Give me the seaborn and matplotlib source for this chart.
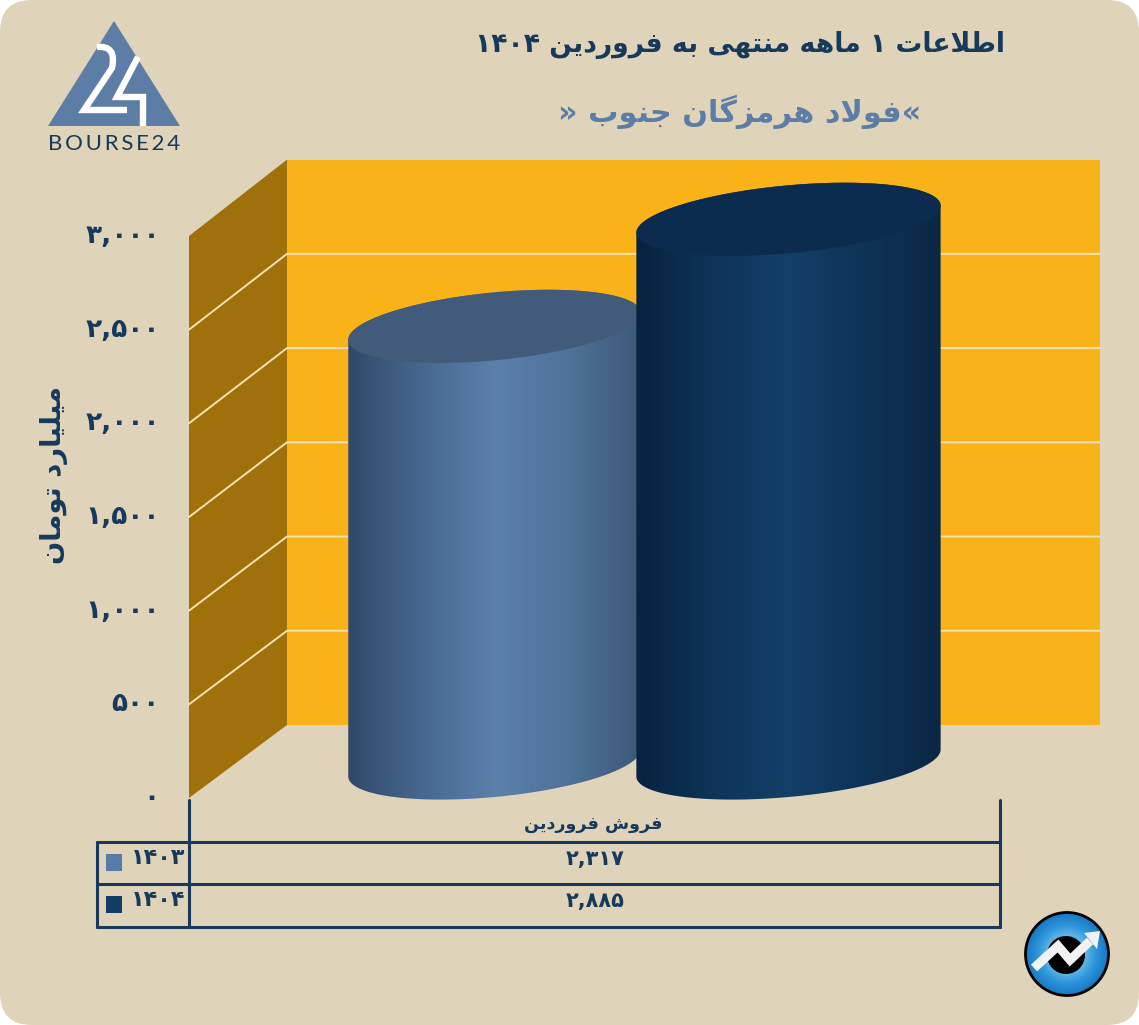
"""Recreate the Bourse24 sales chart: 3D style cylinders on a seaborn bar plot."""

import re

import matplotlib

matplotlib.use("Agg")

import matplotlib.pyplot as plt
import numpy as np
import pandas as pd
import seaborn as sns
from matplotlib.colors import LinearSegmentedColormap
from matplotlib.patches import Circle, FancyBboxPatch, PathPatch, Polygon, Rectangle
from matplotlib.path import Path
from matplotlib.transforms import ScaledTranslation

TITLE = "اطلاعات ۱ ماهه منتهی به فروردین ۱۴۰۴"
SUBTITLE = "«فولاد هرمزگان جنوب »"
Y_LABEL = "میلیارد تومان"
METRIC = "فروش فروردین"
YEARS = ["۱۴۰۳", "۱۴۰۴"]
SALES = [2317, 2885]
Y_TICKS = [0, 500, 1000, 1500, 2000, 2500, 3000]

NAVY = "#17395c"
STEEL = "#5b7da6"
BG = "#dfd4b9"
YEAR_COLORS = ["#557ba6", "#123c66"]
TOP_COLORS = ["#425b7b", "#0b2c4e"]
BODY_COLORS = [
    ["#30496a", "#46688f", "#5b80ab", "#4f7399", "#3b587a"],
    ["#06233f", "#0e3459", "#133f68", "#0e3358", "#0a2743"],
]
BAR_FLARE = [0.995, 1.035]
DEPTH_SCALE = 1.006  # the box is drawn a little taller behind the front plane

# Arabic presentation forms: first codepoint of iso/final/init/medial, and if it joins forward
FORMS = {
    "ا": (0xFE8D, False), "ب": (0xFE8F, True), "ت": (0xFE95, True), "ج": (0xFE9D, True),
    "د": (0xFEA9, False), "ر": (0xFEAD, False), "ز": (0xFEAF, False), "ش": (0xFEB5, True),
    "ط": (0xFEC1, True), "ع": (0xFEC9, True), "ف": (0xFED1, True), "گ": (0xFB92, True),
    "ل": (0xFEDD, True), "م": (0xFEE1, True), "ن": (0xFEE5, True), "ه": (0xFEE9, True),
    "و": (0xFEED, False), "ی": (0xFBFC, True),
}


def shape(text):
    """Join the letters and lay the text out right to left, as matplotlib will not."""
    text = text.replace("لا", "\ufefb")
    out = []
    for i, ch in enumerate(text):
        prev_ch = text[i - 1] if i else ""
        next_ch = text[i + 1] if i + 1 < len(text) else ""
        joins_prev = prev_ch in FORMS and FORMS[prev_ch][1]
        if ch == "\ufefb":
            out.append("\ufefc" if joins_prev else ch)
        elif ch in FORMS:
            base, forward = FORMS[ch]
            joins_next = forward and (next_ch in FORMS or next_ch == "\ufefb")
            if joins_prev and joins_next:
                out.append(chr(base + 3))
            elif joins_next:
                out.append(chr(base + 2))
            elif joins_prev:
                out.append(chr(base + 1))
            else:
                out.append(chr(base))
        else:
            out.append(ch)
    visual = "".join(out)[::-1]
    return re.sub(r"[۰-۹,]+", lambda m: m.group(0)[::-1], visual)


def fa_number(value):
    return f"{value:,}".translate(str.maketrans("0123456789", "۰۱۲۳۴۵۶۷۸۹"))


sns.set_theme(style="white")
plt.rcParams["font.family"] = ["DejaVu Sans"]

W, H = 1139, 1025
fig = plt.figure(figsize=(W / 100, H / 100), dpi=100, facecolor="white")

# page layer in pixel coordinates
page = fig.add_axes([0, 0, 1, 1])
page.set_xlim(0, W)
page.set_ylim(H, 0)
page.axis("off")
page.add_patch(FancyBboxPatch((32, 32), W - 64, H - 64, boxstyle="round,pad=32,rounding_size=32",
                              fc=BG, ec="none"))

# plot axes sit on the front plane of the 3D box
LEFT, RIGHT, BOTTOM, TOP = 189, 1000, 798, 236
ax = fig.add_axes([LEFT / W, 1 - BOTTOM / H, (RIGHT - LEFT) / W, (BOTTOM - TOP) / H])
ax.patch.set_visible(False)

df = pd.DataFrame({"metric": [METRIC] * len(SALES), "year": YEARS, "value": SALES})
sns.barplot(data=df, x="metric", y="value", hue="year", palette=YEAR_COLORS, width=0.725,
            legend=False, ax=ax)
bars = [p for p in ax.patches if p.get_height() > 0]
ax.set_xlim(-0.5, 0.5)
ax.set_ylim(0, 3000)
sns.despine(ax=ax, left=True, bottom=True)
ax.set_xlabel("")
ax.set_ylabel("")
ax.set_xticks([])
ax.set_yticks(Y_TICKS)
ax.set_yticklabels([shape(fa_number(v)) for v in Y_TICKS], fontsize=19, fontweight="bold", color=NAVY)
ax.tick_params(axis="y", length=0, pad=21)
for tick_label in ax.get_yticklabels():
    tick_label.set_transform(tick_label.get_transform() + ScaledTranslation(0, 0.03, fig.dpi_scale_trans))

x_per_px = 1 / (RIGHT - LEFT)
y_per_px = 3000 / (BOTTOM - TOP)
depth_x = 98 * x_per_px
depth_y = 73 * y_per_px
wall_top = depth_y + 3000 * DEPTH_SCALE

# walls of the box
ax.add_patch(Rectangle((-0.5 + depth_x, depth_y), 1 + 2 * x_per_px, wall_top - depth_y, fc="#fab219", ec="none",
                       zorder=1, clip_on=False))
ax.add_patch(Polygon([(-0.5, 0), (-0.5 + depth_x, depth_y), (-0.5 + depth_x, wall_top), (-0.5, 3000)],
                     fc="#a0710a", ec="none", zorder=1, clip_on=False))
for tick in Y_TICKS[1:-1]:
    back = depth_y + tick * DEPTH_SCALE
    ax.plot([-0.5, -0.5 + depth_x, 0.5 + depth_x + 2 * x_per_px], [tick, back, back],
            color="#f3e2b4", lw=1.4, zorder=2, clip_on=False)

# swap each flat bar for a cylinder built from its position and height
theta = np.linspace(0, 2 * np.pi, 240)
half = theta[:120]
for i, bar in enumerate(bars):
    bar.set_visible(False)
    cx = bar.get_x() + bar.get_width() / 2 + 47 * x_per_px
    rx = bar.get_width() / 2 * BAR_FLARE[i]
    base = 35 * y_per_px
    top = base + bar.get_height() * DEPTH_SCALE
    ry = 34 * y_per_px
    tilt = 13.5 * y_per_px

    def ring(angle, level):
        return np.column_stack([cx + rx * np.cos(angle),
                                level + tilt * np.cos(angle) + ry * np.sin(angle)])

    # angle 0 is right side; the lower half runs from right to left through the bottom
    lower = ring(-half, base)
    upper = ring(np.pi - half, top)
    body_pts = np.vstack([lower, upper])
    body = Path(np.vstack([body_pts, body_pts[0]]), closed=True)
    clip = PathPatch(body, transform=ax.transData, fc="none", ec="none")
    cmap = LinearSegmentedColormap.from_list("body", BODY_COLORS[i])
    im = ax.imshow(np.linspace(0, 1, 256)[None, :], cmap=cmap, aspect="auto", zorder=3 + i,
                   extent=[cx - rx, cx + rx, base - 2 * ry, top + 2 * ry])
    im.set_clip_box(fig.bbox)
    im.set_clip_path(clip)
    ax.add_patch(Polygon(ring(theta, top), fc=TOP_COLORS[i], ec="none", zorder=3 + i, clip_on=False))
ax.set_xlim(-0.5, 0.5)
ax.set_ylim(0, 3000)

# titles and axis label
page.text(740, 45, shape(TITLE), fontsize=19.2, fontweight="bold", color=NAVY, ha="center", va="center")
page.text(740, 112, shape(SUBTITLE), fontsize=21.8, fontweight="bold", color=STEEL, ha="center", va="center")
page.text(54, 475, shape(Y_LABEL), fontsize=19.7, fontweight="bold", color=NAVY, rotation=90,
          ha="center", va="center")

# data table under the plot
line = dict(color=NAVY, lw=2.2, solid_capstyle="round", solid_joinstyle="round")
for y in (842, 884, 927):
    page.plot([97, 1000], [y, y], **line)
page.plot([97, 97], [842, 927], **line)
page.plot([189, 189], [800, 927], **line)
page.plot([1000, 1000], [800, 927], **line)
page.text(593, 824, shape(METRIC), fontsize=12.6, fontweight="bold", color=NAVY, ha="center", va="center")
for k, (year, value) in enumerate(zip(YEARS, SALES)):
    y = 858 + 42 * k
    page.add_patch(Rectangle((106, y - 4), 16, 17, fc=YEAR_COLORS[k], ec="none"))
    page.text(185, y, shape(year), fontsize=16, fontweight="bold", color=NAVY, ha="right", va="center")
    page.text(595, y + 1, shape(fa_number(value)), fontsize=15, fontweight="bold", color=NAVY,
              ha="center", va="center")

# Bourse24 mark
page.add_patch(Polygon([(114, 21), (48, 126), (180, 126)], fc=STEEL, ec="none"))
two = Path([(97, 47), (117, 45), (112, 68), (84, 110), (127, 110)],
           [Path.MOVETO, Path.CURVE3, Path.CURVE3, Path.LINETO, Path.LINETO])
four = Path([(138, 57), (117, 97), (143, 97), (143, 126)],
            [Path.MOVETO, Path.LINETO, Path.LINETO, Path.LINETO])
for shape_path in (two, four):
    page.add_patch(PathPatch(shape_path, fc="none", ec="white", lw=4.6, capstyle="butt", joinstyle="miter"))
page.text(114, 144, "\u2009".join("BOURSE24"), fontsize=16, family="Lato", color=NAVY,
          ha="center", va="center")

# round arrow badge
badge = Circle((1067, 954), 41, transform=page.transData, fc="none", ec="none")
gx, gy = np.meshgrid(np.linspace(-1, 1, 200), np.linspace(-1, 1, 200))
radial = np.hypot(gx, gy)
blue = LinearSegmentedColormap.from_list("blue", ["#6fbde9", "#2e97dc", "#1878c4"])
disc = page.imshow(radial, cmap=blue, vmin=0.4, vmax=1, aspect="auto", extent=[1026, 1108, 995, 913], zorder=2)
disc.set_clip_path(badge)
page.set_xlim(0, W)
page.set_ylim(H, 0)
page.add_patch(Circle((1067, 954), 41.5, fc="none", ec="black", lw=2, zorder=3))
page.add_patch(Circle((1066, 955), 19, fc="black", ec="none", zorder=3))
page.plot([1034, 1058, 1070, 1090], [968, 946, 960, 941], color="#f2f2f2", lw=6.5,
          solid_joinstyle="miter", solid_capstyle="butt", zorder=4)
page.add_patch(Polygon([(1084, 933), (1100, 931), (1097, 949)], fc="#f2f2f2", ec="none", zorder=4))

fig.savefig("out.png", dpi=100, facecolor="white")
